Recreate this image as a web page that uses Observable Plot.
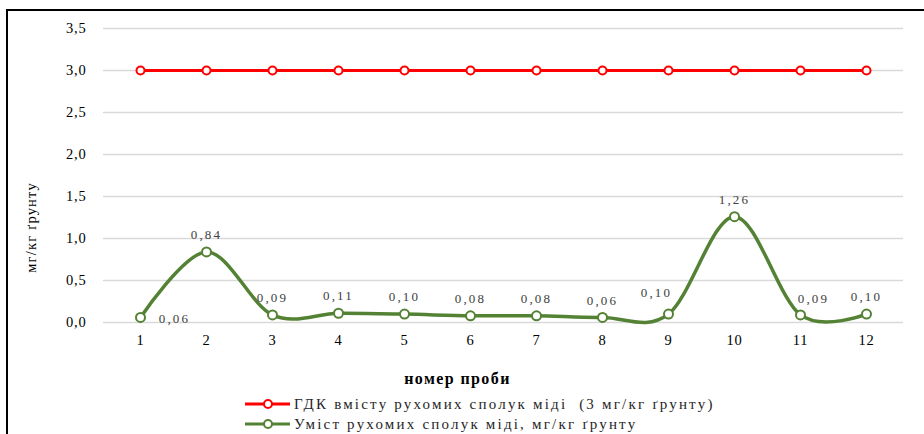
<!DOCTYPE html>
<html><head><meta charset="utf-8">
<script src="https://cdn.jsdelivr.net/npm/d3@7"></script>
<script src="https://cdn.jsdelivr.net/npm/@observablehq/plot@0.6"></script>
<style>
body{margin:0;background:#fff;font-family:"Liberation Serif","Times New Roman",serif;}
#wrap{position:relative;width:924px;height:434px;overflow:hidden;background:#fff;}
#frame{position:absolute;left:6px;top:9px;width:1000px;height:1000px;border-top:2px solid #000;border-left:2px solid #000;}
#chart{position:absolute;left:0;top:0;}
#chart svg text{font-family:"Liberation Serif","Times New Roman",serif;}
#legend{position:absolute;left:244px;top:394px;font-size:15px;letter-spacing:2.2px;color:#262626;font-family:"Liberation Serif","Times New Roman",serif;}
.item{display:flex;align-items:center;height:20px;white-space:pre;}
.item svg{margin-right:2px;}
</style></head>
<body>
<div id="wrap"><div id="frame"></div><div id="chart"></div><div id="legend"></div></div>
<script>
const samples = [1, 2, 3, 4, 5, 6, 7, 8, 9, 10, 11, 12];
const copper = [0.06, 0.84, 0.09, 0.11, 0.10, 0.08, 0.08, 0.06, 0.10, 1.26, 0.09, 0.10];
const limitValue = 3.0;
const yTicks = [0, 0.5, 1.0, 1.5, 2.0, 2.5, 3.0, 3.5];
const seriesNames = ["ГДК вмісту рухомих сполук міді  (3 мг/кг ґрунту)", "Уміст рухомих сполук міді, мг/кг ґрунту"];
const seriesColors = ["#ff0000", "#548235"];
const yTitle = "мг/кг ґрунту";
const xTitle = "номер проби";

const rows = samples.map((s, i) => ({sample: s, copper: copper[i], limit: limitValue, i}));
const fmt1 = d => d.toFixed(1).replace(".", ",");
const fmt2 = d => d.toFixed(2).replace(".", ",");
const special = new Set([0, 8, 10]);
const lbl = {x: "sample", y: "copper", text: d => fmt2(d.copper), fill: "#404040", fontSize: 13};

const plot = Plot.plot({
  width: 924, height: 390,
  marginLeft: 103, marginRight: 21, marginTop: 28, marginBottom: 68,
  style: {fontFamily: "Liberation Serif, Times New Roman, serif", fontSize: "13px", color: "#000", background: "transparent", overflow: "visible"},
  x: {type: "point", domain: samples, padding: 0.5},
  y: {domain: [0, 3.5]},
  marks: [
    Plot.ruleY(yTicks, {stroke: "#d9d9d9", strokeWidth: 1.5}),
    Plot.axisY({ticks: yTicks, tickSize: 0, tickPadding: 17, tickFormat: fmt1, label: null, fontSize: 14.5}),
    Plot.axisX({tickSize: 0, tickPadding: 12, label: null, fontSize: 14.5}),
    Plot.text([xTitle], {frameAnchor: "bottom", lineAnchor: "middle", textAnchor: "middle", dx: -46, dy: 56, fontWeight: "bold", fontSize: 16}),
    Plot.text([yTitle], {frameAnchor: "left", rotate: -90, textAnchor: "middle", lineAnchor: "middle", dx: -72, dy: 52, fontSize: 14.5}),
    Plot.line(rows, {x: "sample", y: "limit", stroke: seriesColors[0], strokeWidth: 3}),
    Plot.dot(rows, {x: "sample", y: "limit", r: 4, fill: "#fff", stroke: seriesColors[0], strokeWidth: 2}),
    Plot.line(rows, {x: "sample", y: "copper", stroke: seriesColors[1], strokeWidth: 3.5, curve: "cardinal"}),
    Plot.dot(rows, {x: "sample", y: "copper", r: 4.5, fill: "#fff", stroke: seriesColors[1], strokeWidth: 2}),
    Plot.text(rows.filter(d => !special.has(d.i)), {...lbl, dy: -17}),
    Plot.text(rows.filter(d => d.i === 0), {...lbl, dx: 34, dy: 1}),
    Plot.text(rows.filter(d => d.i === 8), {...lbl, dx: -12, dy: -21}),
    Plot.text(rows.filter(d => d.i === 10), {...lbl, dx: 13, dy: -16})
  ]
});
const textGroups = d3.select(plot).selectAll('g[aria-label="text"]').nodes();
const spacing = [1.4, 1.2, 2.2, 2.2, 2.2, 2.2];
textGroups.forEach((g, k) => d3.select(g).selectAll("text").style("letter-spacing", spacing[k] + "px"));
d3.select(plot).selectAll('g[aria-label="x-axis tick label"] text, g[aria-label="y-axis tick label"] text').style("letter-spacing", "0.8px");
document.getElementById("chart").appendChild(plot);

const legend = document.getElementById("legend");
seriesNames.forEach((name, k) => {
  const item = document.createElement("div");
  item.className = "item";
  item.innerHTML = `<svg width="48" height="12"><line x1="1" x2="46" y1="6" y2="6" stroke="${seriesColors[k]}" stroke-width="3"/><circle cx="24" cy="6" r="4" fill="#fff" stroke="${seriesColors[k]}" stroke-width="2"/></svg><span>${name}</span>`;
  legend.appendChild(item);
});
</script>
</body></html>
